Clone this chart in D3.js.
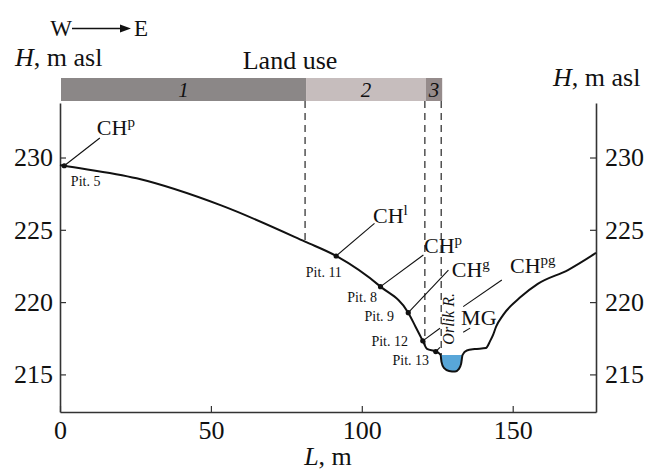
<!DOCTYPE html>
<html lang="en">
<head>
    <meta charset="UTF-8">
    <title>Orlik R. valley profile</title>
    <style>
        body { margin: 0; background: white; }
        svg { display: block; }
        text { font-family: "Liberation Serif", "Times New Roman", serif; fill: #111; }
    </style>
</head>
<body>
    <svg width="645" height="470"></svg>
    <script src="https://d3js.org/d3.v7.min.js"></script>
    <script>
        // ground profile W -> E (distance L, m; height H, m asl)
        const profileL = [0, 1.4, 25.4, 53.6, 81.2, 91.5, 106.2, 115.4, 117.8, 120.2, 121.6, 124.5, 126.1,
            126.4, 127.2, 128.9, 130.9, 132.2, 132.9, 133.4,
            134.8, 137.4, 141.1, 142.5, 143.5, 144.5, 146.8, 152.8, 158.3, 168.3, 177.6];
        const profileH = [229.48, 229.43, 228.56, 226.67, 224.18, 223.19, 221.07, 219.27, 218.3, 217.32, 216.76, 216.58, 216.35,
            215.87, 215.45, 215.24, 215.2, 215.38, 215.73, 216.35,
            216.65, 216.75, 216.82, 217.3, 217.73, 218.3, 219.1, 220.38, 221.26, 222.22, 223.4];

        // river channel (first and last index into the profile)
        const riverFrom = 12, riverTo = 19;

        // soil pits
        const pitNames = ["Pit. 5", "Pit. 11", "Pit. 8", "Pit. 9", "Pit. 12", "Pit. 13"];
        const pitL = [1.4, 91.5, 106.2, 115.4, 120.2, 124.5];
        const pitH = [229.43, 223.19, 221.07, 219.27, 217.32, 216.58];
        const pitLabelL = [3.6, 93.4, 105.0, 110.7, 115.3, 122.3];
        const pitLabelH = [228.03, 221.74, 220.0, 218.7, 216.97, 215.66];

        // soil labels and their leader lines
        const soilNames = ["CH", "CH", "CH", "CH", "CH", "MG"];
        const soilSup = ["p", "l", "p", "g", "pg", ""];
        const soilL = [12.2, 103.7, 120.6, 129.8, 149.1, 132.9];
        const soilH = [231.56, 225.47, 223.42, 221.74, 222.02, 218.42];
        const leaderFromL = [1.4, 91.5, 106.2, 115.4, 133.6, 133.6, 120.2, 124.5];
        const leaderFromH = [229.43, 223.19, 221.07, 219.27, 219.69, 217.92, 217.32, 216.58];
        const leaderToL = [13.2, 104.2, 120.4, 128.7, 146.4, 135.9, 125.9, 125.9];
        const leaderToH = [231.35, 225.45, 223.26, 222.22, 221.53, 218.2, 218.19, 216.87];

        // land use strip
        const landUseNames = ["1", "2", "3"];
        const landUseBounds = [0, 81.2, 120.9, 126.3];
        const landUseColors = ["#8b8787", "#c6bdbd", "#958b8b"];

        const xTicks = [0, 50, 100, 150];
        const yTicks = [215, 220, 225, 230];

        const svg = d3.select("svg");
        const x = d3.scaleLinear().domain([0, 177.6]).range([60, 596]);
        const y = d3.scaleLinear().domain([212.4, 233.77]).range([412, 103]);

        const profile = profileL.map((l, i) => [l, profileH[i]]);
        const heightAt = l => {
            const i = d3.bisector(d => d[0]).left(profile, l);
            if (i <= 0) return profile[0][1];
            const a = profile[i - 1], b = profile[i];
            return a[1] + (b[1] - a[1]) * (l - a[0]) / (b[0] - a[0]);
        };

        // axes
        const big = 26;
        const axisStyle = g => {
            g.select(".domain").attr("stroke", "#333").attr("stroke-width", 1.6);
            g.selectAll(".tick line").attr("stroke", "#333").attr("stroke-width", 1.2);
            g.selectAll(".tick text").attr("font-family", "Liberation Serif").attr("font-size", big).attr("fill", "#111");
        };
        svg.append("g").attr("transform", "translate(0,412)")
            .call(d3.axisBottom(x).tickValues(xTicks).tickSizeInner(-6).tickSizeOuter(0).tickPadding(9))
            .call(axisStyle);
        svg.append("g").attr("transform", "translate(60,0)")
            .call(d3.axisLeft(y).tickValues(yTicks).tickSizeInner(-6).tickSizeOuter(0).tickPadding(7))
            .call(axisStyle);
        svg.append("g").attr("transform", "translate(596,0)")
            .call(d3.axisRight(y).tickValues(yTicks).tickSizeInner(-6).tickSizeOuter(0).tickPadding(9))
            .call(axisStyle);

        // axis titles
        const hLeft = svg.append("text").attr("x", 15).attr("y", 66).attr("font-size", big);
        hLeft.append("tspan").attr("font-style", "italic").text("H");
        hLeft.append("tspan").text(", m asl");
        const hRight = svg.append("text").attr("x", 553).attr("y", 86).attr("font-size", big);
        hRight.append("tspan").attr("font-style", "italic").text("H");
        hRight.append("tspan").text(", m asl");
        const lTitle = svg.append("text").attr("x", 328).attr("y", 465).attr("font-size", big).attr("text-anchor", "middle");
        lTitle.append("tspan").attr("font-style", "italic").text("L");
        lTitle.append("tspan").text(", m");

        // W -> E arrow
        svg.append("text").attr("x", 72).attr("y", 36).attr("font-size", 23).attr("text-anchor", "end").text("W");
        svg.append("line").attr("x1", 72).attr("x2", 122).attr("y1", 28.5).attr("y2", 28.5)
            .attr("stroke", "#111").attr("stroke-width", 1.3);
        svg.append("path").attr("d", "M120,24.5L131,28.5L120,32.5Z").attr("fill", "#111");
        svg.append("text").attr("x", 134).attr("y", 36).attr("font-size", 23).text("E");

        // land use strip
        svg.append("text").attr("x", 290).attr("y", 69).attr("font-size", big).attr("text-anchor", "middle").text("Land use");
        const lu = svg.append("g");
        lu.selectAll("rect").data(landUseNames).join("rect")
            .attr("x", (d, i) => x(landUseBounds[i]) + 1)
            .attr("width", (d, i) => x(landUseBounds[i + 1]) - x(landUseBounds[i]))
            .attr("y", 78).attr("height", 23)
            .attr("fill", (d, i) => landUseColors[i]);
        lu.selectAll("text").data(landUseNames).join("text")
            .attr("x", (d, i) => (x(landUseBounds[i]) + x(landUseBounds[i + 1])) / 2 + 1)
            .attr("y", 97).attr("font-size", 21).attr("font-style", "italic").attr("text-anchor", "middle")
            .text(d => d);

        // boundaries of land use down to the ground
        svg.append("g").selectAll("line").data(landUseBounds.slice(1)).join("line")
            .attr("x1", d => x(d)).attr("x2", d => x(d))
            .attr("y1", 101).attr("y2", d => y(heightAt(d)))
            .attr("stroke", "#111").attr("stroke-width", 1.1).attr("stroke-dasharray", "7,5");

        // river water
        const line = d3.line().x(d => x(d[0])).y(d => y(d[1])).curve(d3.curveMonotoneX);
        const channel = profile.slice(riverFrom, riverTo + 1);
        svg.append("path").attr("d", line(channel) + "Z").attr("fill", "#58a6d8");

        // ground line
        svg.append("path").attr("d", line(profile))
            .attr("fill", "none").attr("stroke", "#111").attr("stroke-width", 2);

        // leaders
        svg.append("g").selectAll("line").data(leaderFromL).join("line")
            .attr("x1", d => x(d)).attr("y1", (d, i) => y(leaderFromH[i]))
            .attr("x2", (d, i) => x(leaderToL[i])).attr("y2", (d, i) => y(leaderToH[i]))
            .attr("stroke", "#111").attr("stroke-width", 1.1);

        // pits
        svg.append("g").selectAll("circle").data(pitL).join("circle")
            .attr("cx", d => x(d)).attr("cy", (d, i) => y(pitH[i])).attr("r", 2.6).attr("fill", "#111");
        svg.append("g").selectAll("text").data(pitNames).join("text")
            .attr("x", (d, i) => x(pitLabelL[i])).attr("y", (d, i) => y(pitLabelH[i]))
            .attr("font-size", 14).attr("text-anchor", (d, i) => i === 0 ? "start" : "end")
            .text(d => d);

        // soil labels
        const soil = svg.append("g").selectAll("text").data(soilNames).join("text")
            .attr("x", (d, i) => x(soilL[i])).attr("y", (d, i) => y(soilH[i]))
            .attr("font-size", 22);
        soil.append("tspan").text(d => d);
        soil.append("tspan").attr("font-size", 15).attr("dy", -8).text((d, i) => soilSup[i]);

        // river name
        svg.append("text")
            .attr("transform", `translate(${x(128.9) + 5},${y(218.84)}) rotate(-90)`)
            .attr("font-size", 16).attr("font-style", "italic").attr("text-anchor", "middle")
            .text("Orlik R.");
    </script>
</body>
</html>
